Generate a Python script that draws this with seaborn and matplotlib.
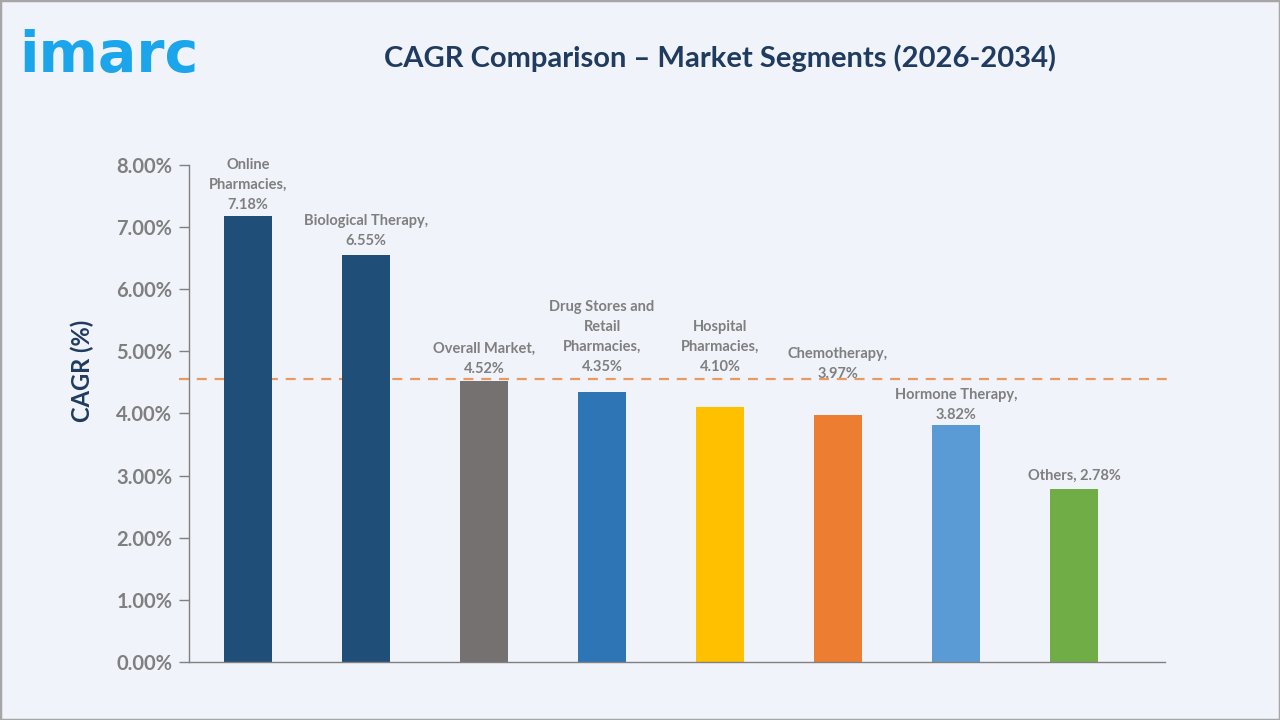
import matplotlib
matplotlib.use("Agg")
import matplotlib.pyplot as plt
import seaborn as sns
import pandas as pd
from matplotlib.patches import Rectangle

# data
segments = ["Online Pharmacies", "Biological Therapy", "Overall Market",
            "Drug Stores and Retail Pharmacies", "Hospital Pharmacies",
            "Chemotherapy", "Hormone Therapy", "Others"]
cagr = [7.18, 6.55, 4.52, 4.35, 4.10, 3.97, 3.82, 2.78]
labels = ["Online\nPharmacies,\n7.18%", "Biological Therapy,\n6.55%",
          "Overall Market,\n4.52%", "Drug Stores and\nRetail\nPharmacies,\n4.35%",
          "Hospital\nPharmacies,\n4.10%", "Chemotherapy,\n3.97%",
          "Hormone Therapy,\n3.82%", "Others, 2.78%"]
ref_line = 4.55
yticks = [0, 1, 2, 3, 4, 5, 6, 7, 8]

bar_colors = ["#1F4E79", "#1F4E79", "#767171", "#2E75B6",
              "#FFC000", "#ED7D31", "#5B9BD5", "#70AD47"]
# vertical gap (points) between bar top and its label
label_gap = [3, 5, 4, 13, 24, 25, 2, 4.5]

bg = "#F0F3F9"
grey = "#7F7F7F"
navy = "#1F3B5F"

sns.set_theme(style="white")
plt.rcParams["font.family"] = ["Lato", "DejaVu Sans"]

df = pd.DataFrame({"segment": segments, "cagr": cagr})

fig = plt.figure(figsize=(12.8, 7.2), dpi=100, facecolor=bg)
ax = fig.add_axes([0.1477, 0.0806, 0.7623, 0.6903])
ax.set_facecolor(bg)

sns.barplot(data=df, x="segment", y="cagr", hue="segment",
            palette=bar_colors, width=0.4, legend=False, ax=ax,
            saturation=1, linewidth=0)

ax.axhline(ref_line, xmin=-0.01, xmax=1.003, color="#EA9A60", lw=1.6,
           ls=(0, (4.5, 3.5)), zorder=0.5, clip_on=False)

for i, (v, lab) in enumerate(zip(cagr, labels)):
    ax.annotate(lab, (i, v), xytext=(0, label_gap[i]), textcoords="offset points",
                ha="center", va="bottom", fontsize=10.5, fontweight="bold",
                color=grey, linespacing=1.55)

ax.set_xlim(-0.5, 7.77)
ax.set_ylim(0, 8)
ax.set_yticks(yticks)
ax.set_yticklabels([f"{t:.2f}%" for t in yticks], fontsize=14.5,
                   fontweight="bold", color=grey)
ax.set_xticks([])
ax.set_xlabel("")
ax.set_ylabel("CAGR (%)", fontsize=17, fontweight="bold", color=navy)
ax.yaxis.set_label_coords(-0.097, 0.585)
ax.tick_params(axis="y", length=7, width=1, color="#808080", left=True, pad=5)
for s in ["top", "right"]:
    ax.spines[s].set_visible(False)
for s in ["left", "bottom"]:
    ax.spines[s].set_color("#808080")
    ax.spines[s].set_linewidth(1)

fig.text(0.5625, 0.919, "CAGR Comparison \u2013 Market Segments (2026-2034)",
         ha="center", va="center", fontsize=21, fontweight="bold", color=navy)
fig.text(0.015, 0.921, "imarc", ha="left", va="center", fontsize=41,
         fontweight="bold", color="#1BA6EC", family="DejaVu Sans")

fig.patches.append(Rectangle((0, 0), 1, 1, transform=fig.transFigure,
                             fill=False, edgecolor="#A6A6A6", lw=2.5))

fig.savefig("out.png", dpi=100, facecolor=bg)
